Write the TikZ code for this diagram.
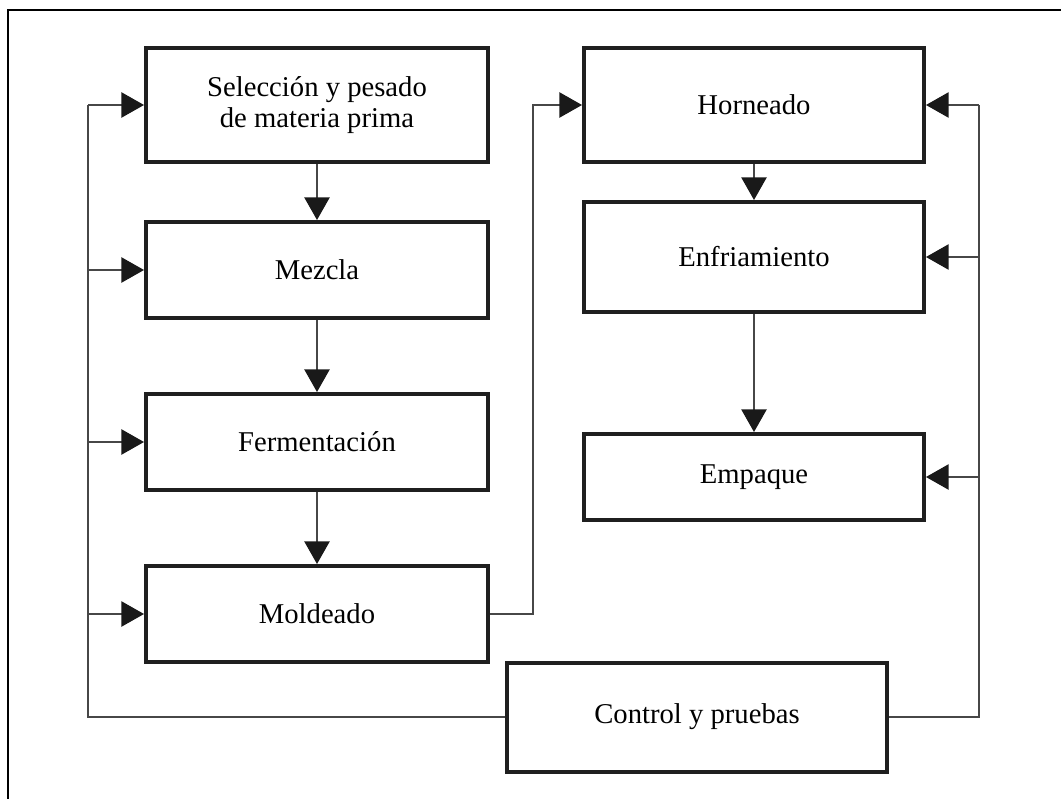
\documentclass[tikz,border=0pt]{standalone}
\usepackage{fontspec}
\setmainfont{Liberation Serif}
\usetikzlibrary{arrows.meta}
\begin{document}
\begin{tikzpicture}[x=0.75pt,y=-0.75pt,
  procbox/.style={draw=black!88,line width=3pt,fill=white,align=center,
    font=\fontsize{21.5}{23}\selectfont,inner sep=0pt},
  link/.style={draw=black!72,line width=1.1pt},
  tip/.style={link,-{Triangle[length=17pt,width=19pt,color=black!90]}}]
\useasboundingbox (0,0) rectangle (1061,799);
% page frame (only top and left edges fall inside the crop)
\draw[line width=1.1pt] (8,799) -- (8,10) -- (1061,10);

% left column
\node[procbox,minimum width=342pt*0.75,minimum height=114pt*0.75] (sel) at (317,105)
  {Selección y pesado\\de materia prima};
\node[procbox,minimum width=342pt*0.75,minimum height=96pt*0.75] (mez) at (317,270) {Mezcla};
\node[procbox,minimum width=342pt*0.75,minimum height=96pt*0.75] (fer) at (317,442) {Fermentación};
\node[procbox,minimum width=342pt*0.75,minimum height=96pt*0.75] (mol) at (317,614) {Moldeado};

% right column
\node[procbox,minimum width=340pt*0.75,minimum height=114pt*0.75] (hor) at (754,105) {Horneado};
\node[procbox,minimum width=340pt*0.75,minimum height=110pt*0.75] (enf) at (754,257) {Enfriamiento};
\node[procbox,minimum width=340pt*0.75,minimum height=86pt*0.75] (emp) at (754,477) {Empaque};

% control
\node[procbox,minimum width=380pt*0.75,minimum height=109pt*0.75] (ctl) at (697,717) {Control y pruebas};

% main flow
\draw[tip] (sel) -- (mez);
\draw[tip] (mez) -- (fer);
\draw[tip] (fer) -- (mol);
\draw[tip] (hor) -- (enf);
\draw[tip] (enf) -- (emp);
\coordinate (jog) at (533,614);
\draw[tip] (mol.east) -- (jog) |- (hor.west);

% feedback buses from control
\coordinate (lbus) at (88,717);
\coordinate (rbus) at (979,717);
\draw[link] (ctl.west) -- (lbus) -- (lbus |- sel.west);
\draw[link] (ctl.east) -- (rbus) -- (rbus |- hor.east);
\foreach \n in {sel,mez,fer,mol}
  \draw[tip] (lbus |- \n.west) -- (\n.west);
\foreach \n in {hor,enf,emp}
  \draw[tip] (rbus |- \n.east) -- (\n.east);
\end{tikzpicture}
\end{document}
